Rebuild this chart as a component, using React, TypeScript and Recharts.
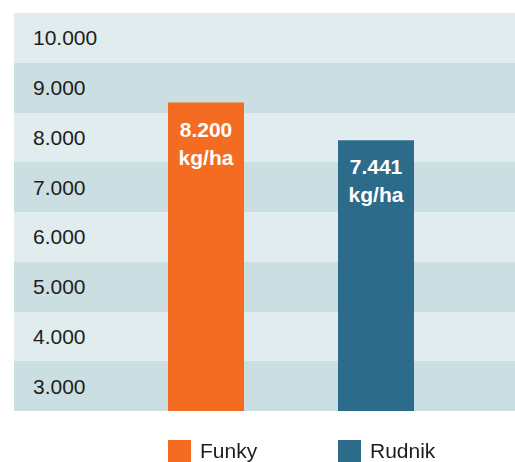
import {
  BarChart,
  Bar,
  Cell,
  XAxis,
  YAxis,
  CartesianGrid,
  LabelList,
} from "recharts";

const varieties = ["Funky", "Rudnik"];
const yields = [8200, 7441];
const unit = "kg/ha";
const yTicks = [3000, 4000, 5000, 6000, 7000, 8000, 9000, 10000];

const COLORS = ["#F36C21", "#2C6B8A"];
const BAND_LIGHT = "#E0ECEE";
const BAND_DARK = "#CBDFE3";
const FONT = "'Liberation Sans', Arial, Helvetica, sans-serif";
const TEXT = "#1d1d1b";

const W = 515;
const H = 462;
const M = { top: 13, right: 0, bottom: 51, left: 14 };
const BAND_H = (H - M.top - M.bottom) / yTicks.length;

const data = varieties.map((name, i) => ({ name, value: yields[i] }));

function fmt(v: number) {
  const th = Math.floor(v / 1000);
  const rest = String(v % 1000).padStart(3, "0");
  return th + "." + rest;
}

// label sits in the middle of the band below its gridline
function BandTick(props: any) {
  const { y, payload } = props;
  return (
    <text
      x={M.left + 19}
      y={y + BAND_H / 2}
      dy="0.36em"
      fill={TEXT}
      fontSize={21}
      fontFamily={FONT}
    >
      {fmt(payload.value)}
    </text>
  );
}

function BarText(props: any) {
  const { x, y, width, value } = props;
  const cx = x + width / 2;
  return (
    <text
      textAnchor="middle"
      fill="#fff"
      fontWeight="bold"
      fontSize={21}
      fontFamily={FONT}
    >
      <tspan x={cx} y={y + 34}>{fmt(value)}</tspan>
      <tspan x={cx} y={y + 62}>{unit}</tspan>
    </text>
  );
}

export default function App() {
  const lefts = [168, 338];
  return (
    <div style={{ position: "fixed", left: 0, top: 0, width: W, height: H }}>
      <BarChart width={W} height={H} data={data} margin={M}>
        <CartesianGrid
          vertical={false}
          stroke="none"
          horizontalFill={[BAND_LIGHT, BAND_DARK]}
          fillOpacity={1}
        />
        <XAxis dataKey="name" hide padding={{ left: 107, right: 54 }} />
        <YAxis
          domain={[2000, 10000]}
          ticks={yTicks}
          mirror
          axisLine={false}
          tickLine={false}
          tick={BandTick}
          allowDataOverflow
        />
        <Bar dataKey="value" barSize={76} isAnimationActive={false}>
          {data.map((_, i) => (
            <Cell key={i} fill={COLORS[i]} />
          ))}
          <LabelList dataKey="value" content={BarText} />
        </Bar>
      </BarChart>
      {varieties.map((name, i) => (
        <div
          key={name}
          style={{
            position: "absolute",
            left: lefts[i],
            top: 440,
            display: "flex",
            alignItems: "center",
            fontFamily: FONT,
            fontSize: 21,
            color: TEXT,
          }}
        >
          <span
            style={{
              display: "inline-block",
              width: 23,
              height: 22,
              background: COLORS[i],
              marginRight: 9,
            }}
          />
          <span style={{ lineHeight: "22px" }}>{name}</span>
        </div>
      ))}
    </div>
  );
}
